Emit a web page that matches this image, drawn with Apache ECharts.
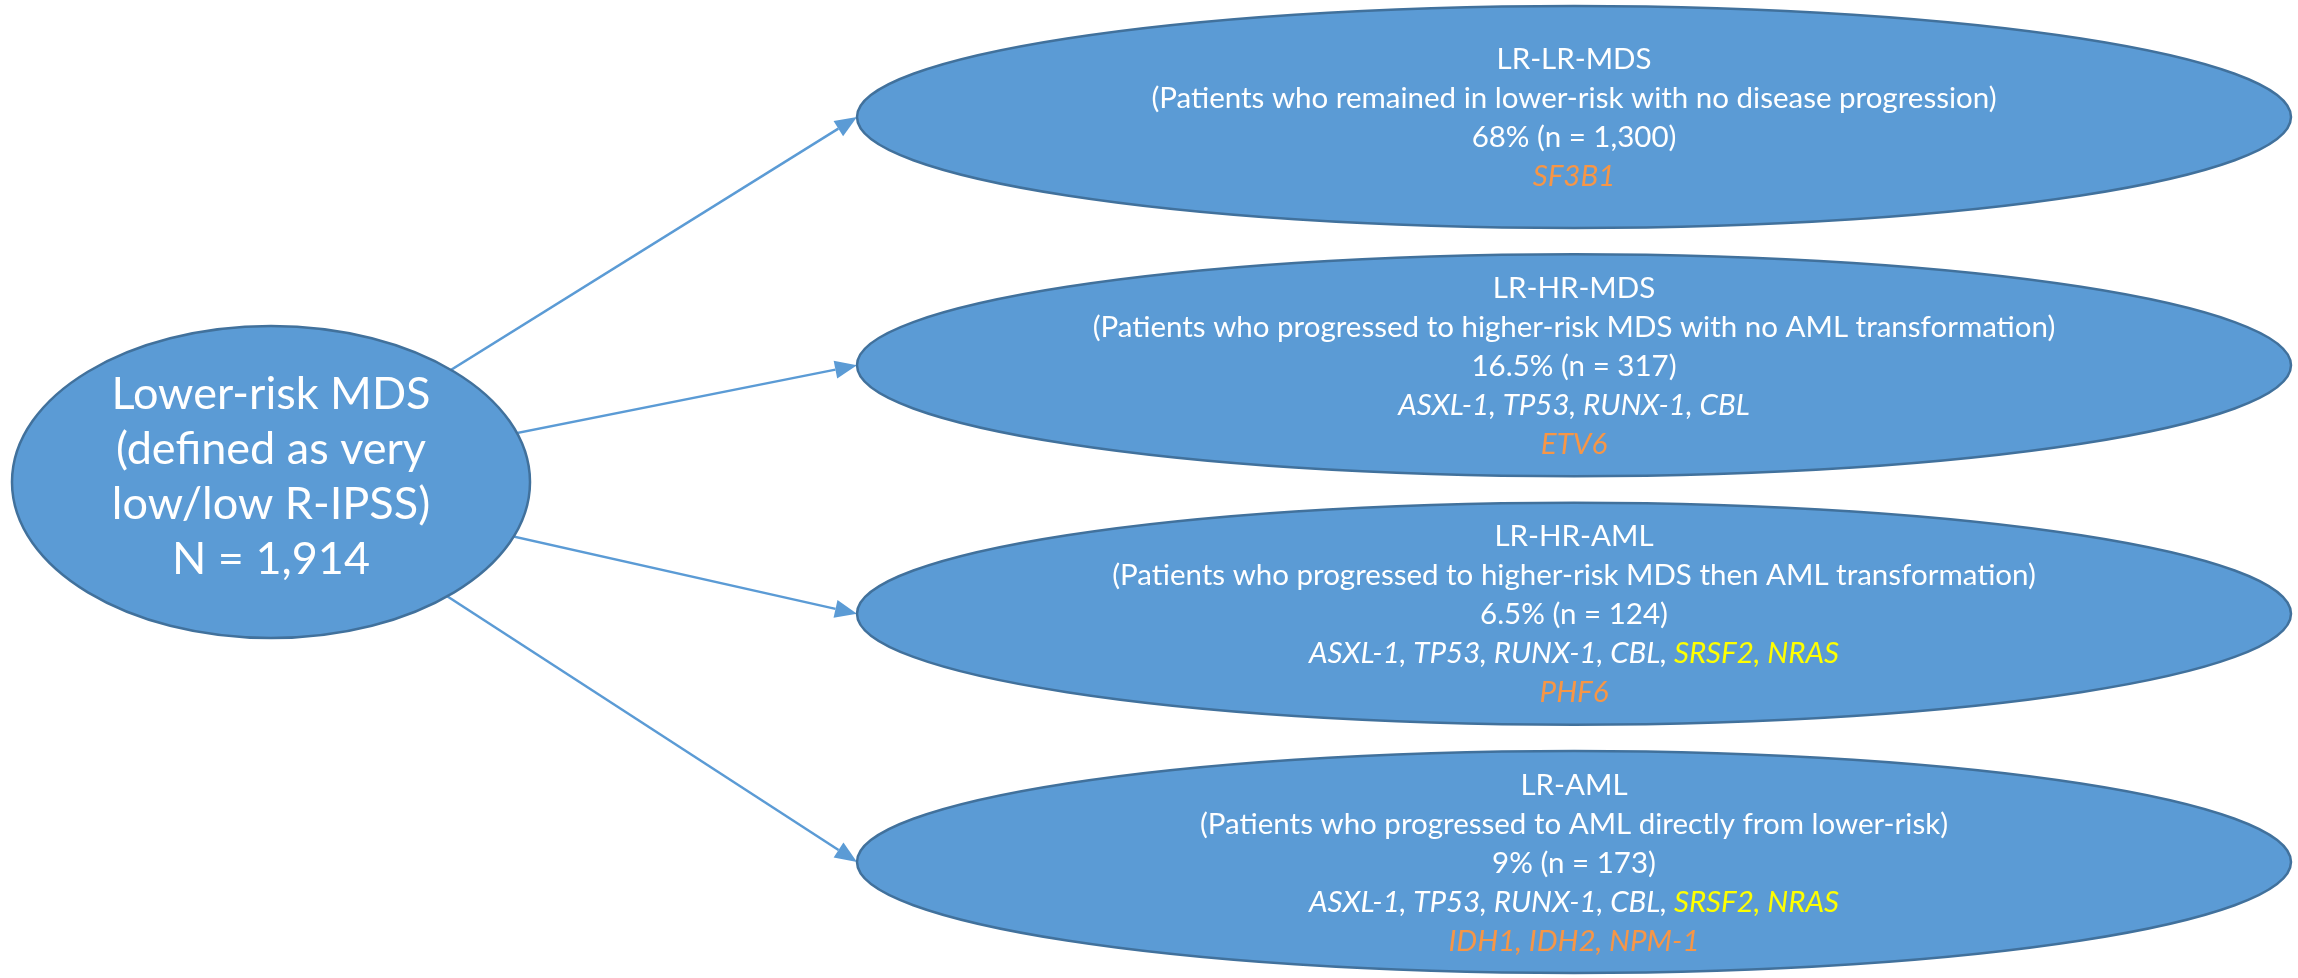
<!DOCTYPE html>
<html>
<head>
<meta charset="utf-8">
<script src="https://cdn.jsdelivr.net/npm/echarts@6/dist/echarts.min.js"></script>
<style>
  html, body { margin: 0; padding: 0; background: #ffffff; }
  #chart { width: 2298px; height: 978px; }
</style>
</head>
<body>
<div id="chart"></div>
<script>
// ---- data ----
const sourceLines = ['Lower-risk MDS', '(defined as very', 'low/low R-IPSS)'];
const totalN = 1914;
const groups = ['LR-LR-MDS', 'LR-HR-MDS', 'LR-HR-AML', 'LR-AML'];
const descriptions = [
  '(Patients who remained in lower-risk with no disease progression)',
  '(Patients who progressed to higher-risk MDS with no AML transformation)',
  '(Patients who progressed to higher-risk MDS then AML transformation)',
  '(Patients who progressed to AML directly from lower-risk)'
];
const percents = [68, 16.5, 6.5, 9];
const counts = [1300, 317, 124, 173];
const sharedGenes = [[], ['ASXL-1', 'TP53', 'RUNX-1', 'CBL'], ['ASXL-1', 'TP53', 'RUNX-1', 'CBL'], ['ASXL-1', 'TP53', 'RUNX-1', 'CBL']];
const amlGenes = [[], [], ['SRSF2', 'NRAS'], ['SRSF2', 'NRAS']];
const specificGenes = [['SF3B1'], ['ETV6'], ['PHF6'], ['IDH1', 'IDH2', 'NPM-1']];

// ---- layout (column / row positions in the diagram) ----
const SOURCE_COL = 0, TARGET_COL = 1;
const SOURCE_ROW = 1.47;

// ---- styles ----
const FILL = '#5B9BD5', STROKE = '#41719C', ARROW = '#5B9BD5';
const FONT = 'Lato, "Open Sans", sans-serif';
const RX_T = 717, RY_T = 111, RX_S = 259, RY_S = 156;

const fmt = n => n.toLocaleString('en-US');

function targetText(i) {
  const lines = [];
  lines.push('{n|' + groups[i] + '}');
  lines.push('{n|' + descriptions[i] + '}');
  lines.push('{n|' + percents[i] + '% (n = ' + fmt(counts[i]) + ')}');
  if (sharedGenes[i].length) {
    let s = '{i|' + sharedGenes[i].join(', ') + (amlGenes[i].length ? ', ' : '') + '}';
    if (amlGenes[i].length) s += '{y|' + amlGenes[i].join(', ') + '}';
    lines.push(s);
  }
  lines.push('{o|' + specificGenes[i].join(', ') + '}');
  return lines.join('\n');
}
const T_SIZE = 29.5, T_LH = 39;
const targetRich = {
  n: { fill: '#ffffff', fontSize: T_SIZE, fontFamily: FONT, lineHeight: T_LH },
  i: { fill: '#ffffff', fontSize: T_SIZE, fontFamily: FONT, fontStyle: 'italic', lineHeight: T_LH },
  y: { fill: '#FFFF00', fontSize: T_SIZE, fontFamily: FONT, fontStyle: 'italic', lineHeight: T_LH },
  o: { fill: '#F79646', fontSize: T_SIZE, fontFamily: FONT, fontStyle: 'italic', lineHeight: T_LH }
};

const targetData = groups.map((g, i) => [TARGET_COL, i]);
const arrowData = groups.map((g, i) => [SOURCE_COL, SOURCE_ROW, TARGET_COL, i]);
const sourceData = [[SOURCE_COL, SOURCE_ROW]];

const chart = echarts.init(document.getElementById('chart'));
chart.setOption({
  backgroundColor: '#ffffff',
  animation: false,
  grid: { left: 271, width: 1303, top: 117, height: 745 },
  xAxis: { type: 'value', min: 0, max: 1, show: false },
  yAxis: { type: 'value', min: 0, max: groups.length - 1, inverse: true, show: false },
  series: [
    {
      type: 'custom', name: 'arrows', z: 1,
      data: arrowData,
      renderItem(params, api) {
        const a = api.coord([api.value(0), api.value(1)]);
        const b0 = api.coord([api.value(2), api.value(3)]);
        const b = [b0[0] - RX_T, b0[1]];
        const dx = b[0] - a[0], dy = b[1] - a[1];
        const len = Math.sqrt(dx * dx + dy * dy);
        const ux = dx / len, uy = dy / len;
        const headL = 22, headW = 9;
        const base = [b[0] - ux * headL, b[1] - uy * headL];
        return {
          type: 'group', children: [
            { type: 'line', shape: { x1: a[0], y1: a[1], x2: base[0], y2: base[1] },
              style: { stroke: ARROW, lineWidth: 2.5 } },
            { type: 'polygon', shape: { points: [
                b, [base[0] - uy * headW, base[1] + ux * headW], [base[0] + uy * headW, base[1] - ux * headW]
              ] }, style: { fill: ARROW } }
          ]
        };
      }
    },
    {
      type: 'custom', name: 'outcomes', z: 2,
      data: targetData,
      renderItem(params, api) {
        const c = api.coord([api.value(0), api.value(1)]);
        const i = params.dataIndex;
        return {
          type: 'group', children: [
            { type: 'ellipse', shape: { cx: c[0], cy: c[1], rx: RX_T, ry: RY_T },
              style: { fill: FILL, stroke: STROKE, lineWidth: 2.5 } },
            { type: 'text', x: c[0], y: c[1] + 1,
              style: { text: targetText(i), rich: targetRich, align: 'center', verticalAlign: 'middle',
                       fill: '#ffffff', fontSize: T_SIZE, fontFamily: FONT, lineHeight: T_LH } }
          ]
        };
      }
    },
    {
      type: 'custom', name: 'source', z: 3,
      data: sourceData,
      renderItem(params, api) {
        const c = api.coord([api.value(0), api.value(1)]);
        const text = sourceLines.concat(['N = ' + fmt(totalN)]).join('\n');
        return {
          type: 'group', children: [
            { type: 'ellipse', shape: { cx: c[0], cy: c[1], rx: RX_S, ry: RY_S },
              style: { fill: FILL, stroke: STROKE, lineWidth: 2.5 } },
            { type: 'text', x: c[0], y: c[1] - 5,
              style: { text: text, align: 'center', verticalAlign: 'middle',
                       fill: '#ffffff', fontSize: 45, fontFamily: FONT, lineHeight: 55 } }
          ]
        };
      }
    }
  ]
});
</script>
</body>
</html>
